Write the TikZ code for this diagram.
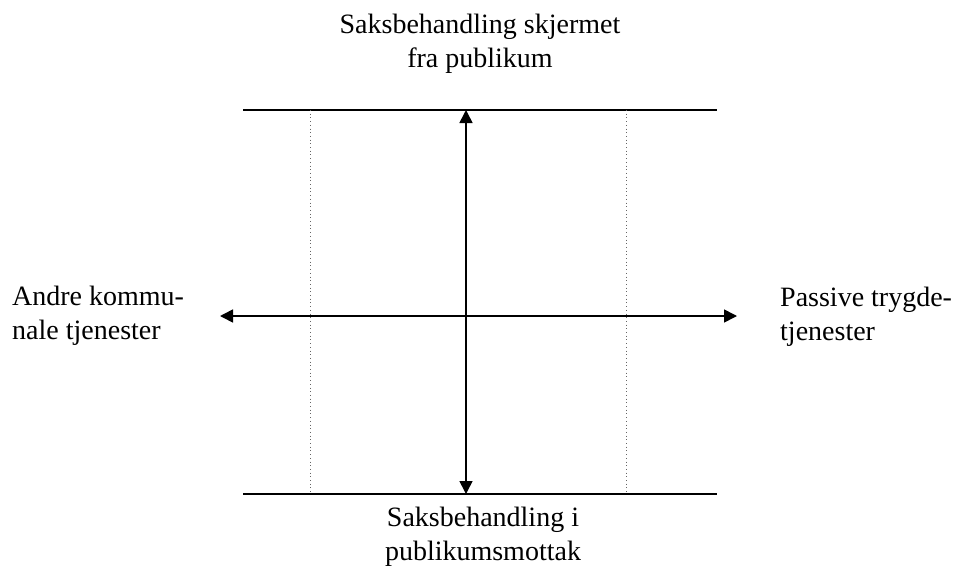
\documentclass[tikz,border=0pt]{standalone}
\usepackage{fontspec}
\setmainfont{Liberation Serif}
\usetikzlibrary{arrows.meta}
\begin{document}
\begin{tikzpicture}[x=1pt,y=-1pt,
  txt/.style={font=\fontsize{28}{34}\selectfont, inner sep=0pt},
  lbl/.style={txt, align=center, anchor=base},
  lbll/.style={txt, align=left, anchor=base west},
  rule/.style={line width=1.6pt},
  guide/.style={line width=1pt, dash pattern=on 1pt off 2.7pt, gray!80!black},
  arr/.style={line width=1.6pt, {Triangle[width=13pt,length=13pt]}-{Triangle[width=13pt,length=13pt]}}]
\useasboundingbox (0,0) rectangle (956,568);
\coordinate (tl) at (243,110); \coordinate (tr) at (717,110);
\coordinate (bl) at (243,494); \coordinate (br) at (717,494);
\coordinate (dlt) at (310,110); \coordinate (dlb) at (310,494);
\coordinate (drt) at (626,110); \coordinate (drb) at (626,494);
\coordinate (vt) at (466,110); \coordinate (vb) at (466,494);
\coordinate (hl) at (220,316); \coordinate (hr) at (737,316);
\draw[rule] (tl) -- (tr);
\draw[rule] (bl) -- (br);
\draw[guide] (dlt) -- (dlb);
\draw[guide] (drt) -- (drb);
\draw[arr] (vt) -- (vb);
\draw[arr] (hl) -- (hr);
\node[lbl] (top) at (480,67) {Saksbehandling skjermet\\fra publikum};
\node[lbl] (bot) at (483,560) {Saksbehandling i\\publikumsmottak};
\node[lbll] (left) at (12,339) {Andre kommu-\\nale tjenester};
\node[lbll] (right) at (780,340) {Passive trygde-\\tjenester};
\end{tikzpicture}
\end{document}
